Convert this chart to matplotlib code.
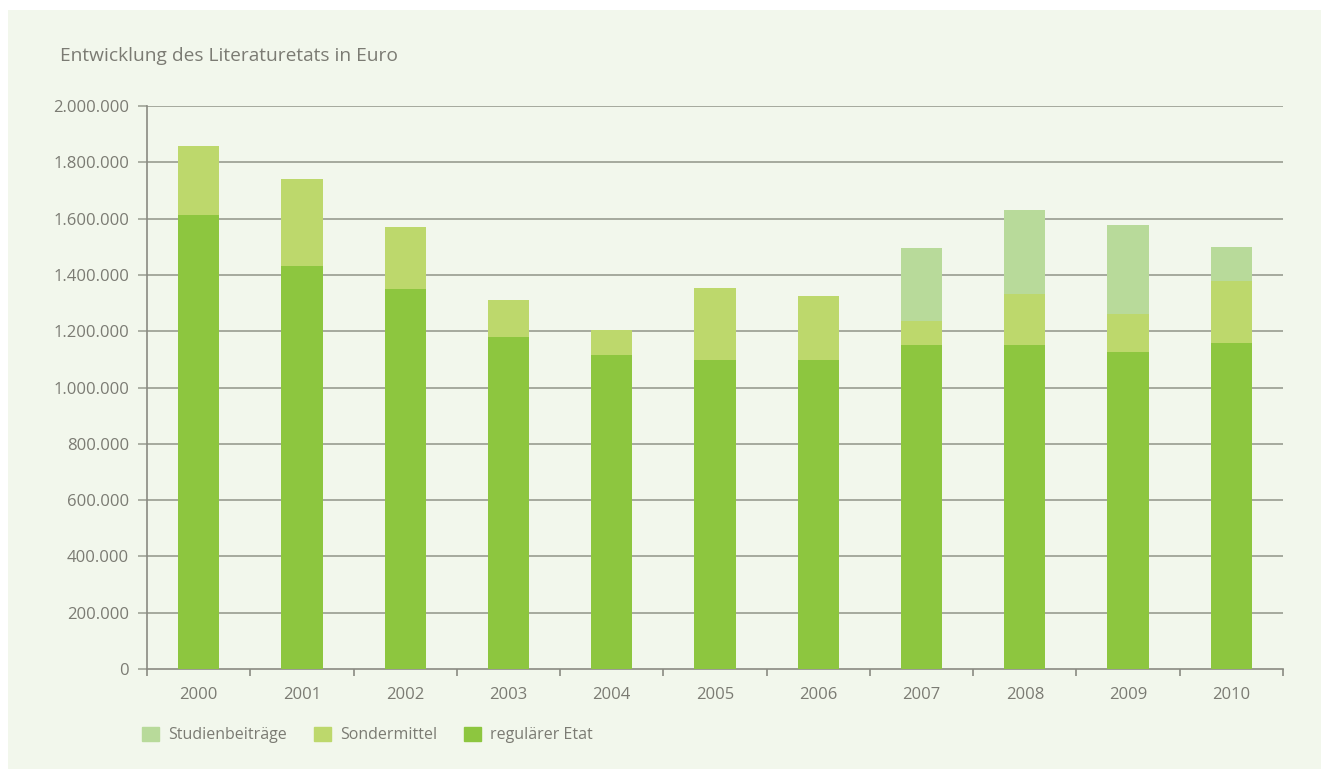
import numpy as np
import matplotlib
matplotlib.use('Agg')
import matplotlib.pyplot as plt
from matplotlib.patches import Rectangle

plt.rcParams['font.family'] = ['Open Sans', 'DejaVu Sans']

# data
years = ['2000', '2001', '2002', '2003', '2004', '2005', '2006', '2007', '2008', '2009', '2010']
regulaer = [1613000, 1432000, 1350000, 1179000, 1115000, 1098000, 1098000, 1151000, 1151000, 1126000, 1158000]
sonder = [245000, 309000, 220000, 132000, 89000, 256000, 227000, 85000, 181000, 135000, 220000]
studien = [0, 0, 0, 0, 0, 0, 0, 259000, 299000, 316000, 121000]
yticks = [0, 200000, 400000, 600000, 800000, 1000000, 1200000, 1400000, 1600000, 1800000, 2000000]

c_reg = '#8dc63f'
c_sond = '#bdd86c'
c_stud = '#b8da9a'
c_text = '#7b7b73'
c_grid = '#a0a397'
c_axis = '#8a8a82'

W, H = 1321, 769
fig = plt.figure(figsize=(W / 100, H / 100), dpi=100)
fig.patch.set_facecolor('white')
fig.patches.append(Rectangle((8 / W, 0), 1 - 8 / W, 1 - 10 / H, transform=fig.transFigure,
                             facecolor='#f2f7ec', edgecolor='none', zorder=-10))

ax = fig.add_axes([147 / W, 1 - 669 / H, (1283 - 147) / W, (669 - 106) / H])
ax.set_facecolor('none')

x = np.arange(len(years))
reg = np.array(regulaer)
son = np.array(sonder)
stu = np.array(studien)
ax.bar(x, reg, width=0.4, color=c_reg, zorder=3)
ax.bar(x, son, width=0.4, bottom=reg, color=c_sond, zorder=3)
ax.bar(x, stu, width=0.4, bottom=reg + son, color=c_stud, zorder=3)

ax.set_xlim(-0.5, len(years) - 0.5)
ax.set_ylim(0, 2000000)
ax.set_yticks(yticks)
ax.set_yticklabels(['{:,}'.format(v).replace(',', '.') for v in yticks])
ax.set_xticks(x)
ax.set_xticklabels(years)
ax.set_xticks(np.arange(-0.5, len(years)), minor=True)

for v in yticks[1:]:
    ax.axhline(v, color=c_grid, lw=1.3, zorder=1)

for s in ['top', 'right']:
    ax.spines[s].set_visible(False)
ax.spines['left'].set_color(c_axis)
ax.spines['bottom'].set_color(c_axis)
ax.spines['left'].set_linewidth(1.2)
ax.spines['bottom'].set_linewidth(1.2)

ax.tick_params(axis='y', length=6.5, width=1.2, color=c_grid, pad=6.5,
               labelsize=12, labelcolor=c_text)
ax.tick_params(axis='x', which='major', length=0, pad=13, labelsize=12, labelcolor=c_text)
ax.tick_params(axis='x', which='minor', length=5, width=1.2, color=c_axis)

fig.text(60 / W, 1 - 61 / H, 'Entwicklung des Literaturetats in Euro',
         fontsize=13.8, color=c_text, va='baseline')

# legend
handles = [Rectangle((0, 0), 1, 1, color=c) for c in [c_stud, c_sond, c_reg]]
fig.legend(handles, ['Studienbeiträge', 'Sondermittel', 'regulärer Etat'],
           loc='center left', bbox_to_anchor=(128 / W, 1 - 735 / H), ncol=3,
           frameon=False, fontsize=11.5, labelcolor=c_text, handlelength=1.06,
           handleheight=1.06, handletextpad=0.56, columnspacing=1.7)

plt.savefig('out.png', dpi=100, facecolor=fig.get_facecolor())
